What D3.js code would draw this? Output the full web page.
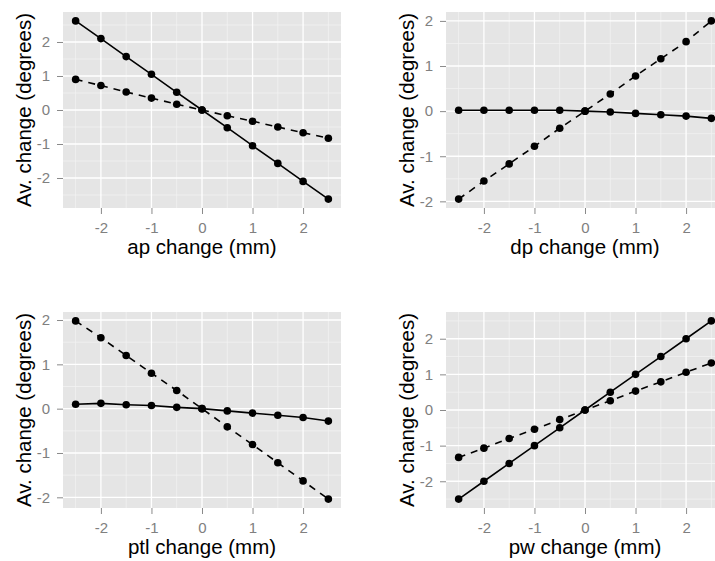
<!DOCTYPE html>
<html>
<head>
<meta charset="utf-8">
<script src="https://cdn.jsdelivr.net/npm/d3@7"></script>
<style>
	body { margin: 0; background: #fff; }
	text { font-family: "Liberation Sans", Arial, sans-serif; }
</style>
</head>
<body>
<div id="chart"></div>
<script>
// shared x positions (mm change)
var xs = [-2.5, -2, -1.5, -1, -0.5, 0, 0.5, 1, 1.5, 2, 2.5];

// series values
var apSolid   = [2.62, 2.1, 1.57, 1.05, 0.52, 0, -0.52, -1.05, -1.57, -2.1, -2.62];
var apDashed  = [0.9, 0.72, 0.53, 0.35, 0.17, 0, -0.17, -0.33, -0.5, -0.67, -0.83];
var dpSolid   = [0.02, 0.02, 0.02, 0.02, 0.02, 0, -0.02, -0.05, -0.08, -0.11, -0.16];
var dpDashed  = [-1.95, -1.55, -1.17, -0.78, -0.38, 0, 0.38, 0.78, 1.16, 1.54, 2.0];
var ptlSolid  = [0.1, 0.12, 0.09, 0.07, 0.03, 0, -0.05, -0.1, -0.15, -0.2, -0.28];
var ptlDashed = [1.98, 1.6, 1.2, 0.8, 0.41, 0, -0.41, -0.81, -1.22, -1.63, -2.04];
var pwSolid   = [-2.5, -2, -1.5, -1, -0.5, 0, 0.5, 1, 1.5, 2, 2.5];
var pwDashed  = [-1.33, -1.07, -0.8, -0.54, -0.27, 0, 0.26, 0.53, 0.79, 1.06, 1.32];

var xTicks = [-2, -1, 0, 1, 2];
var yTicks = [-2, -1, 0, 1, 2];
var xTitles = ['ap change (mm)', 'dp change (mm)', 'ptl change (mm)', 'pw change (mm)'];
var yTitle = 'Av. change (degrees)';

var panels = [
	{solid: apSolid,  dashed: apDashed,  title: xTitles[0], col: 0, row: 0},
	{solid: dpSolid,  dashed: dpDashed,  title: xTitles[1], col: 1, row: 0},
	{solid: ptlSolid, dashed: ptlDashed, title: xTitles[2], col: 0, row: 1},
	{solid: pwSolid,  dashed: pwDashed,  title: xTitles[3], col: 1, row: 1}
];

var W = 715, H = 561;
var colLeft = [63, 446], rowTop = [12, 312];
var pw = 278, ph = 196;

var svg = d3.select('#chart').append('svg')
	.attr('width', W).attr('height', H);

// ggplot-style 5% expansion
function expand(ext) {
	var pad = (ext[1] - ext[0]) * 0.05;
	return [ext[0] - pad, ext[1] + pad];
}

function fmt(d) { return d < 0 ? '-' + Math.abs(d) : d; }

panels.forEach(function(p) {
	var g = svg.append('g')
		.attr('transform', 'translate(' + colLeft[p.col] + ',' + rowTop[p.row] + ')');

	var x = d3.scaleLinear().domain(expand(d3.extent(xs))).range([0, pw]);
	var yExt = d3.extent(p.solid.concat(p.dashed));
	var y = d3.scaleLinear().domain(expand(yExt)).range([ph, 0]);

	g.append('rect').attr('width', pw).attr('height', ph).attr('fill', '#e5e5e5');

	// minor grid at half units
	var xd = x.domain(), yd = y.domain();
	var minorX = d3.range(-2.5, 3, 1).filter(function(v) { return v > xd[0] && v < xd[1]; });
	var minorY = d3.range(-2.5, 3, 1).filter(function(v) { return v > yd[0] && v < yd[1]; });

	g.selectAll('.mx').data(minorX).enter().append('line')
		.attr('x1', x).attr('x2', x).attr('y1', 0).attr('y2', ph)
		.attr('stroke', '#f2f2f2').attr('stroke-width', 0.8);
	g.selectAll('.my').data(minorY).enter().append('line')
		.attr('y1', y).attr('y2', y).attr('x1', 0).attr('x2', pw)
		.attr('stroke', '#f2f2f2').attr('stroke-width', 0.8);

	g.selectAll('.gx').data(xTicks).enter().append('line')
		.attr('x1', x).attr('x2', x).attr('y1', 0).attr('y2', ph)
		.attr('stroke', '#fff').attr('stroke-width', 1.3);
	g.selectAll('.gy').data(yTicks).enter().append('line')
		.attr('y1', y).attr('y2', y).attr('x1', 0).attr('x2', pw)
		.attr('stroke', '#fff').attr('stroke-width', 1.3);

	// axes
	var xAxis = g.append('g').attr('transform', 'translate(0,' + ph + ')')
		.call(d3.axisBottom(x).tickValues(xTicks).tickSize(6).tickPadding(8).tickFormat(fmt));
	var yAxis = g.append('g')
		.call(d3.axisLeft(y).tickValues(yTicks).tickSize(6).tickPadding(7).tickFormat(fmt));
	[xAxis, yAxis].forEach(function(a) {
		a.select('.domain').remove();
		a.selectAll('line').attr('stroke', '#8a8a8a').attr('stroke-width', 1);
		a.selectAll('text').attr('fill', '#808080')
			.style('font-size', '15px').style('font-family', '"Liberation Sans", Arial, sans-serif');
	});

	var line = d3.line().x(function(d) { return x(d[0]); }).y(function(d) { return y(d[1]); });
	var solidPts = xs.map(function(v, i) { return [v, p.solid[i]]; });
	var dashedPts = xs.map(function(v, i) { return [v, p.dashed[i]]; });

	g.append('path').datum(dashedPts).attr('d', line)
		.attr('fill', 'none').attr('stroke', '#000').attr('stroke-width', 1.6)
		.attr('stroke-dasharray', '7,6');
	g.append('path').datum(solidPts).attr('d', line)
		.attr('fill', 'none').attr('stroke', '#000').attr('stroke-width', 1.6);

	g.selectAll('.pt').data(solidPts.concat(dashedPts)).enter().append('circle')
		.attr('cx', function(d) { return x(d[0]); })
		.attr('cy', function(d) { return y(d[1]); })
		.attr('r', 3.8).attr('fill', '#000');

	g.append('text')
		.attr('x', pw / 2).attr('y', ph + 46)
		.attr('text-anchor', 'middle')
		.style('font-size', '20.5px').attr('fill', '#000')
		.text(p.title);

	g.append('text')
		.attr('transform', 'translate(-32,' + (ph / 2) + ') rotate(-90)')
		.attr('text-anchor', 'middle')
		.style('font-size', '20.5px').attr('fill', '#000')
		.text(yTitle);
});
</script>
</body>
</html>
